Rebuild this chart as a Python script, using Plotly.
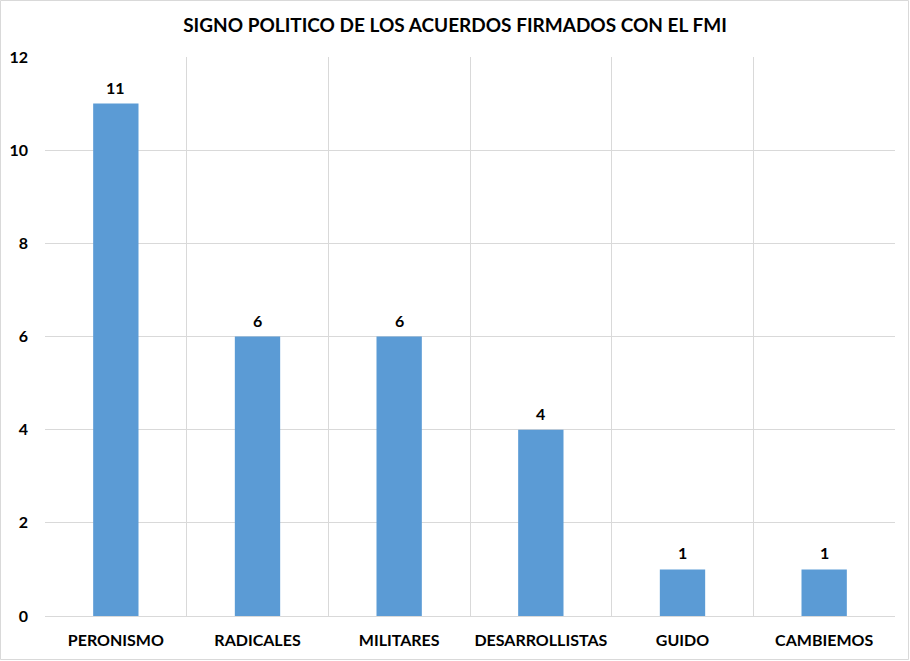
import plotly.graph_objects as go

categories = ["PERONISMO", "RADICALES", "MILITARES", "DESARROLLISTAS", "GUIDO", "CAMBIEMOS"]
values = [11, 6, 6, 4, 1, 1]
y_ticks = [0, 2, 4, 6, 8, 10, 12]

W, H = 910, 661
ml, mr, mt, mb = 45, 15, 57, 45
pw, ph = W - ml - mr, H - mt - mb

font_family = "Lato, 'Open Sans', sans-serif"

fig = go.Figure(go.Bar(
    x=categories, y=values, width=0.32,
    marker=dict(color="#5B9BD5", line=dict(width=0)),
    cliponaxis=False,
))

for c, v in zip(categories, values):
    fig.add_annotation(x=c, y=v, text=f"<b>{v}</b>", showarrow=False,
                       yanchor="bottom", yshift=5,
                       font=dict(family=font_family, size=16, color="#000000"))

fig.update_layout(
    width=W, height=H,
    margin=dict(l=ml, r=mr, t=mt, b=mb, autoexpand=False),
    paper_bgcolor="white", plot_bgcolor="white",
    showlegend=False,
    title=dict(text="<b>SIGNO POLITICO DE LOS ACUERDOS FIRMADOS CON EL FMI</b>",
               x=0.5, xanchor="center", y=1 - 25 / H, yanchor="middle",
               font=dict(family=font_family, size=19, color="#000000")),
    xaxis=dict(type="category", tickson="boundaries", showgrid=True, gridcolor="#d9d9d9",
               gridwidth=1, ticks="", showline=True, linecolor="#d9d9d9",
               tickfont=dict(family=font_family, size=16, color="#000000", weight="bold"),
               range=[-0.5, 5.5], ticklabelstandoff=10),
    yaxis=dict(range=[0, 12], tickvals=y_ticks, showgrid=True, gridcolor="#d9d9d9",
               gridwidth=1, zeroline=False, showline=False, ticks="",
               tickfont=dict(family=font_family, size=16, color="#000000", weight="bold"),
               ticklabelstandoff=16),
    bargap=0.68,
)

# outer chart border
fig.add_shape(type="rect", xref="paper", yref="paper",
              x0=-(ml - 0.5) / pw, x1=1 + (mr - 1.5) / pw,
              y0=-(mb - 1.5) / ph, y1=1 + (mt - 0.5) / ph,
              line=dict(color="#d9d9d9", width=1), fillcolor="rgba(0,0,0,0)", layer="below")

fig.write_html("out.html", config={"displayModeBar": False},
               post_script="document.body.style.margin='0';document.body.style.padding='0';")
